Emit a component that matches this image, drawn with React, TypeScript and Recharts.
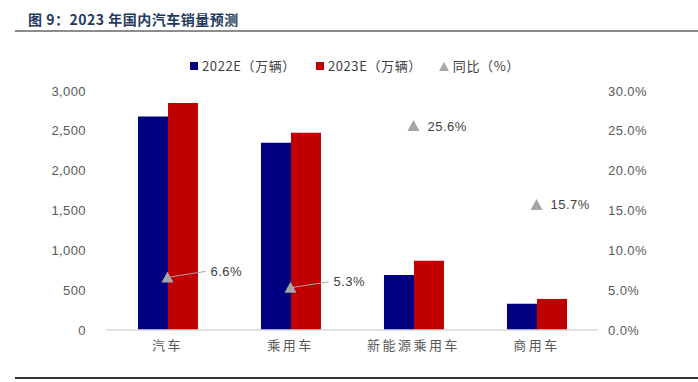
import { ComposedChart, Bar, Line, XAxis, YAxis, LabelList } from 'recharts'

const categories = ['汽车', '乘用车', '新能源乘用车', '商用车']
const sales2022 = [2680, 2350, 690, 330]
const sales2023 = [2850, 2475, 870, 390]
const yoy = [0.066, 0.053, 0.256, 0.157]
const leftTicks = [0, 500, 1000, 1500, 2000, 2500, 3000]
const rightTicks = [0, 0.05, 0.1, 0.15, 0.2, 0.25, 0.3]

const data = categories.map((name, i) => ({
  name,
  s2022: sales2022[i],
  s2023: sales2023[i],
  yoy: yoy[i],
}))

const BLUE = '#000080'
const RED = '#C00000'
const GREY = '#A6A6A6'
const FONT = '"Liberation Sans", "Noto Sans CJK SC", sans-serif'

const Triangle = (props: any) => {
  const { cx, cy } = props
  if (cx == null || cy == null) return null
  return <polygon points={`${cx},${cy - 6} ${cx - 6},${cy + 5} ${cx + 6},${cy + 5}`} fill={GREY} />
}

// first two points get a leader line, others sit to the right
const YoyLabel = (props: any) => {
  const { x, y, index, value } = props
  const text = (value * 100).toFixed(1) + '%'
  const style = { fontSize: 13, fill: '#404040', fontFamily: FONT, letterSpacing: 0.5 }
  if (index < 2) {
    const ex = x + 38
    const ey = y - 6
    return (
      <g>
        <line x1={x} y1={y} x2={ex} y2={ey} stroke={GREY} strokeWidth={1} />
        <text x={ex + 5} y={ey} dy="0.35em" style={style}>{text}</text>
      </g>
    )
  }
  return <text x={x + 14} y={y} dy="0.35em" style={style}>{text}</text>
}

export default function App() {
  return (
    <div style={{ position: 'absolute', left: 0, top: 0, width: 698, height: 382, background: '#fff', fontFamily: FONT }}>
      <div style={{ position: 'absolute', left: 28, top: 9, fontSize: 14, fontWeight: 'bold', color: '#1F3A60', fontFamily: '"Noto Sans CJK SC", sans-serif', letterSpacing: 0.5 }}>
        图 9：2023 年国内汽车销量预测
      </div>
      <div style={{ position: 'absolute', left: 15, top: 30, width: 683, height: 2, background: '#8C8C8C' }} />
      <div style={{ position: 'absolute', left: 15, top: 377, width: 683, height: 2, background: '#333' }} />

      <div style={{ position: 'absolute', left: 190, top: 57, display: 'flex', alignItems: 'center', fontSize: 13, color: '#404040', fontFamily: '"Noto Sans CJK SC", sans-serif', lineHeight: '18px', letterSpacing: 0.6 }}>
        <span style={{ width: 8, height: 8, background: BLUE, marginRight: 4 }} />
        <span style={{ marginRight: 20 }}>2022E（万辆）</span>
        <span style={{ width: 8, height: 8, background: RED, marginRight: 4 }} />
        <span style={{ marginRight: 17 }}>2023E（万辆）</span>
        <svg width={10} height={9} style={{ marginRight: 4 }}>
          <polygon points="5,0 0,9 10,9" fill={GREY} />
        </svg>
        <span>同比（%）</span>
      </div>

      <div style={{ position: 'absolute', left: 0, top: 0 }}>
        <ComposedChart
          width={698}
          height={360}
          data={data}
          margin={{ top: 91, right: 0, bottom: 0, left: 0 }}
          barCategoryGap="26%"
          barGap={0}
        >
          <XAxis
            dataKey="name"
            height={30}
            axisLine={{ stroke: '#D9D9D9', strokeWidth: 1.5 }}
            tickLine={false}
            tickMargin={5}
            tick={{ fontSize: 13, fill: '#595959', fontFamily: '"Noto Sans CJK SC", sans-serif', letterSpacing: 2.5 }}
          />
          <YAxis
            yAxisId="left"
            width={106}
            domain={[0, 3000]}
            ticks={leftTicks}
            axisLine={false}
            tickLine={false}
            tickMargin={14}
            tickFormatter={(v: number) => v.toLocaleString('en-US')}
            tick={{ fontSize: 13, fill: '#595959', fontFamily: FONT, letterSpacing: 0.4 }}
          />
          <YAxis
            yAxisId="right"
            orientation="right"
            width={100}
            domain={[0, 0.3]}
            ticks={rightTicks}
            axisLine={false}
            tickLine={false}
            tickMargin={4}
            tickFormatter={(v: number) => (v * 100).toFixed(1) + '%'}
            tick={{ fontSize: 13, fill: '#595959', fontFamily: FONT, letterSpacing: 0.4 }}
          />
          <Bar yAxisId="left" dataKey="s2022" fill={BLUE} isAnimationActive={false} />
          <Bar yAxisId="left" dataKey="s2023" fill={RED} isAnimationActive={false} />
          <Line
            yAxisId="right"
            dataKey="yoy"
            stroke="none"
            dot={<Triangle />}
            activeDot={false}
            isAnimationActive={false}
          >
            <LabelList dataKey="yoy" content={<YoyLabel />} />
          </Line>
        </ComposedChart>
      </div>
    </div>
  )
}
